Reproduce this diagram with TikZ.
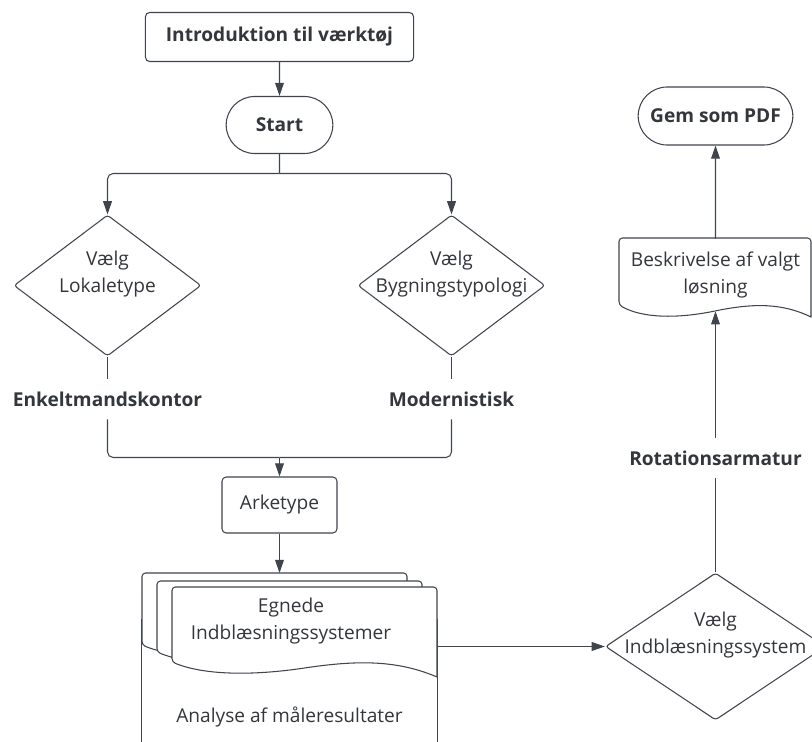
\documentclass[tikz,border=0pt]{standalone}
\usepackage{fontspec}
\setmainfont{Open Sans}
\usepackage{tikz}
\usetikzlibrary{arrows.meta, positioning, shapes.geometric, shapes.misc}
\definecolor{linegray}{HTML}{3F444D}
\definecolor{textgray}{HTML}{33363B}

% text that does not widen a diamond
\newcommand{\zbox}[1]{\makebox[0pt]{\raisebox{5pt}[0pt][0pt]{\begin{tabular}{@{}c@{}}#1\end{tabular}}}}
% document sheet: left, top, right, bottom left, bottom right
\newcommand{\docsheet}[5]{%
  \filldraw[docline] (#3,#5) [rounded corners=2.5pt] -- (#3,#2) -- (#1,#2) -- (#1,#4) [sharp corners]
    .. controls ({#1+0.12*(#3-#1)},{#4+13}) and ({#1+0.3*(#3-#1)},{#4+14}) .. ({#1+0.5*(#3-#1)},{#4+6})
    .. controls ({#1+0.7*(#3-#1)},{#4-2}) and ({#1+0.85*(#3-#1)},{#4-2}) .. (#3,#5) -- cycle;}

\begin{document}
\begin{tikzpicture}[
    x=0.025cm, y=-0.025cm,
    font=\fontsize{13.6}{19.5}\selectfont, text=textgray,
    box/.style={draw=linegray, line width=0.75pt, fill=white, rounded corners=3pt, align=center},
    term/.style={draw=linegray, line width=0.75pt, fill=white, rounded rectangle, font=\fontsize{13.6}{19.5}\selectfont\bfseries},
    choice/.style={draw=linegray, line width=0.75pt, fill=white, diamond, inner sep=0pt, rounded corners=2pt},
    tag/.style={inner sep=9pt, font=\fontsize{13.6}{19.5}\selectfont\bfseries},
    docline/.style={draw=linegray, line width=0.75pt, fill=white},
    line/.style={draw=linegray, line width=0.75pt},
    arrow/.style={line, -{Triangle[length=3.3mm, width=2.2mm]}}
]
\path[use as bounding box] (0,0) rectangle (812,742);
\clip (0,0) rectangle (812,742);

% Left column: intro, start, two choices
\node[box, minimum width=6.7cm, minimum height=1.225cm, font=\fontsize{13.6}{19.5}\selectfont\bfseries] (intro) at (279.5,37) {Introduktion til værktøj};
\node[term, minimum width=2.9cm, minimum height=1.425cm] (start) at (279.5,125) {Start};
\coordinate (split) at (279.5,173.5);
\node[choice, minimum width=4.675cm, minimum height=3.525cm] (lokale) at (107.5,285.5) {\zbox{Vælg\\Lokaletype}};
\node[choice, minimum width=4.675cm, minimum height=3.525cm] (bygning) at (451.5,285.5) {\zbox{Vælg\\Bygningstypologi}};
\node[tag] (enkelt) at (107.5,399) {Enkeltmandskontor};
\node[tag] (modern) at (451.5,399) {Modernistisk};
\coordinate (join) at (279.5,457.5);
\node[box, minimum width=2.875cm, minimum height=1.4cm] (arketype) at (279.5,505) {Arketype};

% Bottom: analysis box with stacked documents
\node[draw=linegray, line width=0.75pt, fill=white, minimum width=7.375cm, minimum height=4.85cm] (analyse) at (289.5,717) {Analyse af måleresultater};
\docsheet{142}{573}{407}{645}{660}
\docsheet{157}{581}{422}{652}{667}
\docsheet{172}{587}{437}{662}{677}
\node[align=center] (egnede) at (291,621) {Egnede\\Indblæsningssystemer};
\coordinate (stacktop) at (279.5,573);
\coordinate (stackright) at (437,646.5);

% Right column: choice, result, save
\node[choice, minimum width=5.5cm, minimum height=3.675cm] (valg) at (715.5,646.5) {\zbox{Vælg\\Indblæsningssystem}};
\node[tag] (rot) at (715.5,458) {Rotationsarmatur};
\docsheet{619}{238}{811}{305}{317}
\node[align=center, minimum width=4.8cm, minimum height=1.8cm] (beskr) at (715.5,275) {Beskrivelse af valgt\\løsning};
\node[term, minimum width=4.1cm, minimum height=1.45cm] (gem) at (715.5,116) {Gem som PDF};

% Connectors
\draw[arrow] (intro) -- (start);
\draw[line] (start) -- (split);
\draw[arrow, rounded corners=4pt] (split) -| (lokale);
\draw[arrow, rounded corners=4pt] (split) -| (bygning);
\draw[line] (lokale) -- (enkelt);
\draw[line] (bygning) -- (modern);
\draw[line, rounded corners=4pt] (enkelt) |- (join);
\draw[line, rounded corners=4pt] (modern) |- (join);
\draw[arrow] (join) -- (arketype);
\draw[arrow] (arketype) -- (stacktop);
\draw[arrow] (stackright) -- (valg);
\draw[line] (valg) -- (rot);
\draw[arrow] (rot) -- (beskr);
\draw[arrow] (beskr) -- (gem);

\end{tikzpicture}
\end{document}
